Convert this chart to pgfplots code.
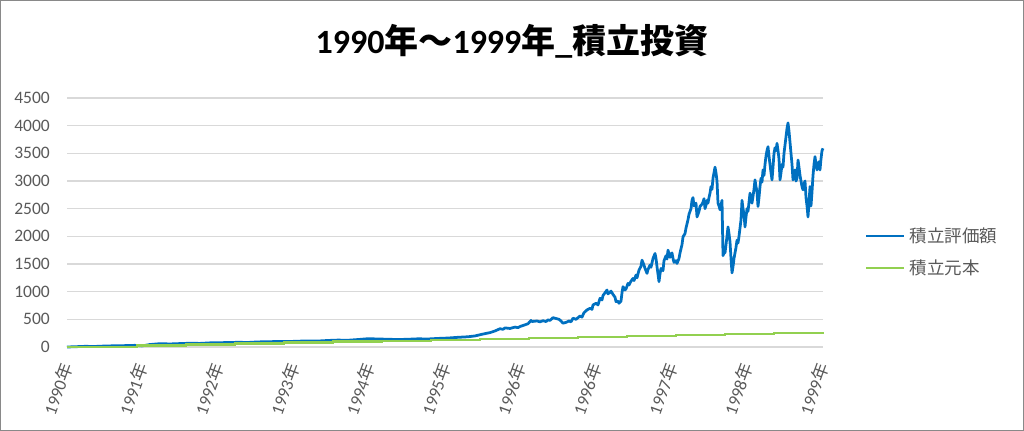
\documentclass[border=0pt]{standalone}
\usepackage{fontspec}
\setmainfont{Carlito}
\newfontfamily\jp{Noto Sans CJK JP}
\usepackage{pgfplots}
\pgfplotsset{compat=1.18}
\usetikzlibrary{calc}
\definecolor{tickgray}{HTML}{595959}
\definecolor{gridgray}{HTML}{D9D9D9}
\definecolor{blueline}{HTML}{0070C0}
\definecolor{greenline}{HTML}{92D050}
\definecolor{framegray}{HTML}{898989}

\begin{document}
\begin{tikzpicture}
\begin{axis}[
  name=ax, scale only axis, width=756bp, height=249bp,
  xmin=67, xmax=823, ymin=0, ymax=4500,
  ytick={0,500,...,4500},
  xtick={67,142.6,218.2,293.8,369.4,445,520.6,596.2,671.8,747.4,823},
  xticklabels={1990{\jp 年},1991{\jp 年},1992{\jp 年},1993{\jp 年},1994{\jp 年},1995{\jp 年},1996{\jp 年},1996{\jp 年},1997{\jp 年},1998{\jp 年},1999{\jp 年}},
  axis line style={draw=none},
  major tick length=0pt,
  ymajorgrids, grid style={gridgray, line width=1.2bp},
  /pgf/number format/1000 sep={},
  /pgf/number format/assume math mode=true,
  yticklabel style={font=\fontsize{17.5bp}{20bp}\selectfont, text=tickgray, anchor=east, inner sep=0pt, xshift=-17bp},
  xticklabel style={font=\fontsize{17.5bp}{20bp}\selectfont, text=tickgray, rotate=70, anchor=east, inner sep=0pt},
  xticklabel shift=17bp,
  title={\bfseries 1990{\jp 年～}1999{\jp 年}\_{\jp 積立投資}},
  title style={at={(axis description cs:0.5886,1)}, anchor=center, yshift=51bp, font=\fontsize{34bp}{38bp}\selectfont, text=black},
  legend style={at={(axis description cs:1.0556,0.3815)}, anchor=west, draw=none, fill=none, inner sep=0pt, row sep=16bp,
    font=\jp\fontsize{17.5bp}{20bp}\selectfont, text=tickgray, nodes={inner sep=0pt},
    /tikz/every odd column/.append style={column sep=4bp}},
  legend image code/.code={\draw[#1, line width=2.5bp] (-1bp,0bp) -- (37bp,0bp);},
  legend cell align=left,
  clip=false,
]
\addplot[blueline, line width=2.75bp, line join=round] table {
x y
67 0
75 5
85 12
95 10
105 18
115 22
125 25
135 30
142 20
150 45
160 60
170 55
180 62
190 68
200 65
210 75
218 78
228 80
238 85
248 82
258 92
268 95
278 100
288 98
298 105
308 110
318 108
328 118
338 125
348 122
358 135
368 150
378 145
388 140
398 135
408 140
418 148
428 145
438 155
448 162
458 175
468 185
475 200
482 230
490 260
495 290
500 330
503 320
505 345
510 335
515 360
518 350
520 370
524 395
528 420
531 480
532 460
534 465
537 470
540 455
543 475
546 460
548 490
550 480
553 530
556 515
559 500
561 470
563 430
566 445
569 470
571 455
573 520
576 500
580 560
582 540
584 620
587 670
590 700
592 680
593 760
596 790
598 760
600 880
602 850
603 930
605 980
607 1030
608 960
610 990
611 1010
613 950
615 900
616 820
618 830
619 790
621 830
622 980
623 1090
625 1030
626 1050
628 1150
629 1120
631 1190
633 1240
634 1200
636 1300
637 1250
639 1390
641 1460
642 1570
644 1480
645 1420
647 1330
648 1400
650 1480
651 1440
653 1600
655 1690
656 1600
657 1450
659 1180
660 1320
661 1420
663 1380
664 1560
666 1650
667 1590
668 1750
670 1620
671 1680
672 1700
673 1600
674 1530
676 1560
677 1510
679 1600
680 1700
682 1850
683 1990
685 2050
686 2150
688 2300
689 2400
691 2500
692 2650
693 2700
694 2550
696 2600
697 2350
699 2450
700 2540
702 2580
703 2620
704 2680
705 2500
706 2560
707 2650
708 2600
709 2700
710 2780
711 2900
712 2850
713 3050
714 3150
715 3250
716 3150
717 3000
718 2600
719 2550
720 2480
721 2560
722 2650
723 1650
724 1700
725 1700
726 1850
727 2000
728 2170
729 2050
730 1900
731 1600
732 1340
733 1450
734 1600
736 1800
737 1930
738 1880
739 2000
741 2300
742 2650
743 2500
744 2400
745 2170
746 2350
747 2500
748 2450
750 2780
751 2700
752 2600
754 2850
755 3020
756 2900
757 2800
758 2540
759 2700
760 2900
761 3050
762 2980
763 3200
764 3100
765 3300
766 3450
767 3550
768 3620
769 3450
770 3300
771 3150
772 3020
773 3250
774 3500
775 3600
776 3550
777 3680
778 3550
779 3400
780 3020
781 3150
782 3300
783 3250
784 3500
785 3650
786 3800
787 3950
788 4050
789 3900
790 3700
791 3500
792 3300
793 3020
794 3150
795 3200
796 3000
797 3050
798 3380
799 3250
800 3100
801 3000
802 2900
803 2840
804 2950
805 3000
806 2700
807 2550
808 2350
809 2600
810 2900
811 2550
812 2800
813 3100
814 3300
815 3440
816 3300
817 3200
818 3300
819 3350
820 3200
821 3400
822 3550
823 3590
};
\addlegendentry{積立評価額}
\addplot[greenline, line width=2.5bp, const plot] table {
x y
67 0
137 25
186 42
235 60
284 78
333 95
382 112
431 130
480 147
529 165
578 182
627 200
676 217
725 235
774 252
823 270
};
\addlegendentry{積立元本}
\end{axis}
\draw[framegray, line width=1.5bp] ($(ax.south west)+(-66.25bp,-83.25bp)$) rectangle ++(1022.5bp,429.5bp);
\end{tikzpicture}
\end{document}
